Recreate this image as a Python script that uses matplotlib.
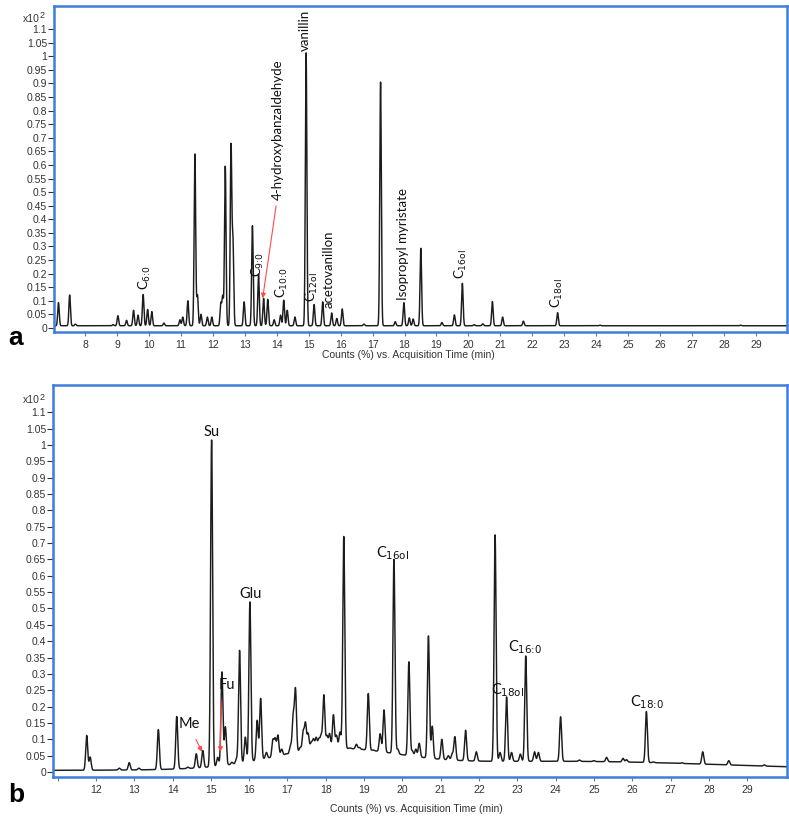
import numpy as np
import matplotlib
matplotlib.use("Agg")
import matplotlib.pyplot as plt

# ---- panel a: retention time (min) and apex height (x10^2 counts %) ----
PEAK_TIME_A = [7.17, 7.52, 7.70, 8.88, 9.03, 9.30, 9.52, 9.66, 9.82, 9.96,
               10.09, 10.47, 10.97, 11.06, 11.22, 11.44, 11.52, 11.63, 11.83, 11.97,
               12.25, 12.31, 12.39, 12.57, 12.63, 12.98, 13.24, 13.43, 13.59, 13.72,
               13.92, 14.12, 14.22, 14.33, 14.57, 14.92, 15.17, 15.44, 15.72, 15.88,
               16.05, 16.73, 17.25, 17.71, 17.98, 18.15, 18.27, 18.51, 19.17, 19.56,
               19.81, 20.18, 20.45, 20.75, 21.07, 21.72, 22.79, 24.12, 28.52]
PEAK_TOP_A = [0.093, 0.121, 0.014, 0.012, 0.045, 0.028, 0.065, 0.047, 0.123, 0.068,
              0.060, 0.018, 0.030, 0.040, 0.100, 0.640, 0.120, 0.050, 0.040, 0.040,
              0.090, 0.115, 0.595, 0.665, 0.315, 0.096, 0.376, 0.198, 0.109, 0.105,
              0.030, 0.047, 0.102, 0.065, 0.040, 1.013, 0.086, 0.096, 0.055, 0.035,
              0.070, 0.014, 0.905, 0.023, 0.093, 0.037, 0.033, 0.293, 0.020, 0.048,
              0.164, 0.012, 0.015, 0.097, 0.040, 0.025, 0.056, 0.010, 0.005]
BASE_LEVEL_A = 0.008

# ---- panel b ----
PEAK_TIME_B = [11.76, 11.85, 12.61, 12.87, 13.12, 13.63, 14.11, 14.40, 14.62, 14.79,
               15.02, 15.18, 15.29, 15.38, 15.55, 15.67, 15.75, 15.90, 16.02, 16.21,
               16.30, 16.45, 16.62, 16.68, 16.75, 16.85, 16.97, 17.08, 17.15, 17.21,
               17.33, 17.41, 17.47, 17.54, 17.62, 17.68, 17.75, 17.82, 17.88, 17.95,
               18.03, 18.10, 18.20, 18.28, 18.37, 18.47, 18.63, 18.80, 18.88, 19.11,
               19.24, 19.42, 19.52, 19.78, 19.88, 20.17, 20.26, 20.35, 20.44, 20.68,
               20.78, 21.03, 21.20, 21.30, 21.37, 21.65, 21.93, 22.42, 22.55, 22.72,
               22.85, 23.08, 23.22, 23.45, 23.55, 24.13, 24.62, 25.00, 25.33, 25.76,
               25.85, 26.37, 26.55, 27.30, 27.84, 28.52, 29.45]
PEAK_TOP_B = [0.112, 0.046, 0.012, 0.029, 0.012, 0.130, 0.170, 0.015, 0.056, 0.066,
              1.015, 0.045, 0.306, 0.138, 0.030, 0.040, 0.372, 0.107, 0.520, 0.158,
              0.225, 0.060, 0.097, 0.100, 0.112, 0.070, 0.046, 0.080, 0.168, 0.250,
              0.075, 0.122, 0.148, 0.117, 0.090, 0.100, 0.105, 0.100, 0.110, 0.235,
              0.110, 0.117, 0.175, 0.112, 0.122, 0.720, 0.070, 0.085, 0.075, 0.240,
              0.060, 0.117, 0.190, 0.650, 0.070, 0.337, 0.065, 0.070, 0.088, 0.416,
              0.140, 0.100, 0.050, 0.055, 0.108, 0.128, 0.062, 0.725, 0.060, 0.230,
              0.060, 0.055, 0.355, 0.062, 0.060, 0.169, 0.037, 0.035, 0.045, 0.042,
              0.038, 0.185, 0.028, 0.025, 0.062, 0.035, 0.022]
BASE_LEVEL_B = 0.005
HUMP_CENTER_B = [18.2, 24.0]
HUMP_HEIGHT_B = [0.055, 0.028]
HUMP_WIDTH_B = [1.6, 4.5]

Y_TICKS = [round(0.05 * i, 2) for i in range(23)]
X_TICKS_A = list(range(8, 30))
X_TICKS_B = list(range(11, 30))

# label text, time, bottom height
LABELS_A = [
    (r"C$_{\text{6:0}}$", 9.88, 0.140),
    (r"C$_{\text{9:0}}$", 13.41, 0.189),
    ("4-hydroxybanzaldehyde", 14.04, 0.471),
    ("vanillin", 14.89, 1.020),
    (r"C$_{\text{10:0}}$", 14.17, 0.110),
    (r"C$_{\text{12ol}}$", 15.10, 0.097),
    ("acetovanillon", 15.64, 0.073),
    ("Isopropyl myristate", 17.95, 0.103),
    (r"C$_{\text{16ol}}$", 19.77, 0.180),
    (r"C$_{\text{18ol}}$", 22.77, 0.073),
]
LABELS_B = [
    ("Su", 15.02, 1.04),
    ("Glu", 16.04, 0.544),
    (r"C$_{\text{16ol}}$", 19.75, 0.670),
    (r"C$_{\text{18ol}}$", 22.74, 0.250),
    (r"C$_{\text{16:0}}$", 23.20, 0.381),
    (r"C$_{\text{18:0}}$", 26.40, 0.212),
    ("Me", 14.44, 0.147),
    ("Fu", 15.43, 0.266),
]
ARROWS_A = [((13.98, 0.449), (13.56, 0.109))]
ARROWS_B = [((14.61, 0.100), (14.77, 0.062)), ((15.26, 0.220), (15.25, 0.062))]

FRAME_BLUE = "#3f7ddb"
TRACE = "#1c1c1c"
ARROW_RED = "#ff4a4a"
LABEL_FONT = ["Lato", "DejaVu Sans"]
TICK_FONT = ["Liberation Sans", "DejaVu Sans"]


def build_trace(t, times, tops, base, sigma):
    y = base.copy()
    for t0, top in zip(times, tops):
        amp = max(top - np.interp(t0, t, base), 0.002)
        y += amp * np.exp(-0.5 * ((t - t0) / sigma) ** 2)
    return y


def style_axes(ax, xlim, ylim, xticks, hide_first=False):
    ax.set_xlim(*xlim)
    ax.set_ylim(*ylim)
    for s in ax.spines.values():
        s.set_color(FRAME_BLUE)
        s.set_linewidth(1.8)
    ax.set_yticks(Y_TICKS)
    ax.set_yticklabels([f"{v:g}" for v in Y_TICKS], family=TICK_FONT, fontsize=7.5,
                       color="#333333")
    ax.set_xticks(xticks)
    labels = [str(v) for v in xticks]
    if hide_first:
        labels[0] = ""
    ax.set_xticklabels(labels, family=TICK_FONT, fontsize=7.5, color="#333333")
    ax.tick_params(axis="y", length=4, width=0.8, color="#333333", pad=1)
    ax.tick_params(axis="x", length=3, width=0.8, color="#777777", pad=3)


def main():
    plt.rcParams["mathtext.default"] = "regular"
    fig = plt.figure(figsize=(7.89, 8.17), dpi=100)
    W, H = 789, 817
    ax_a = fig.add_axes([54 / W, 1 - 332 / H, (787 - 54) / W, (332 - 6) / H])
    ax_b = fig.add_axes([53 / W, 1 - 777 / H, (787 - 53) / W, (777 - 385) / H])

    # panel a
    ta = np.linspace(7.03, 29.97, 20000)
    base_a = np.full_like(ta, BASE_LEVEL_A)
    ya = build_trace(ta, PEAK_TIME_A, PEAK_TOP_A, base_a, 0.024)
    ax_a.plot(ta, ya, color=TRACE, lw=1.05)
    style_axes(ax_a, (7.03, 29.97), (-0.015, 1.185), X_TICKS_A)
    for text, x, y in LABELS_A:
        ax_a.text(x, y, text, rotation=90, ha="center", va="bottom",
                  family=LABEL_FONT, fontsize=9.5, color="#111111")
    for start, end in ARROWS_A:
        ax_a.annotate("", xy=end, xytext=start,
                      arrowprops=dict(arrowstyle="-|>", color=ARROW_RED, lw=0.8,
                                      mutation_scale=7, shrinkA=0, shrinkB=0))

    # panel b
    tb = np.linspace(10.88, 30.04, 20000)
    base_b = np.full_like(tb, BASE_LEVEL_B)
    for c, h, w in zip(HUMP_CENTER_B, HUMP_HEIGHT_B, HUMP_WIDTH_B):
        base_b += h * np.exp(-0.5 * ((tb - c) / w) ** 2)
    yb = build_trace(tb, PEAK_TIME_B, PEAK_TOP_B, base_b, 0.026)
    ax_b.plot(tb, yb, color=TRACE, lw=1.05)
    style_axes(ax_b, (10.88, 30.04), (-0.015, 1.183), X_TICKS_B, hide_first=True)
    for text, x, y in LABELS_B:
        ax_b.text(x, y, text, ha="center", va="center",
                  family=LABEL_FONT, fontsize=10.5, color="#111111")
    for start, end in ARROWS_B:
        ax_b.annotate("", xy=end, xytext=start,
                      arrowprops=dict(arrowstyle="-|>", color=ARROW_RED, lw=0.8,
                                      mutation_scale=7, shrinkA=0, shrinkB=0))

    # axis captions and multipliers
    fig.text(408 / W, 1 - 355 / H, "Counts (%) vs. Acquisition Time (min)",
             ha="center", va="center", family=TICK_FONT, fontsize=7.5, color="#333333")
    fig.text(416 / W, 1 - 809 / H, "Counts (%) vs. Acquisition Time (min)",
             ha="center", va="center", family=TICK_FONT, fontsize=7.5, color="#333333")
    for y_px in (19, 400):
        fig.text(23 / W, 1 - y_px / H, "x10", ha="left", va="center",
                 family=TICK_FONT, fontsize=7.5, color="#333333")
        fig.text(40 / W, 1 - (y_px - 3) / H, "2", ha="left", va="center",
                 family=TICK_FONT, fontsize=6.5, color="#333333")
    fig.text(8 / W, 1 - 338 / H, "a", ha="left", va="center", fontsize=19,
             fontweight="bold", family=TICK_FONT)
    fig.text(8 / W, 1 - 795 / H, "b", ha="left", va="center", fontsize=19,
             fontweight="bold", family=TICK_FONT)

    fig.savefig("out.png", dpi=100)
    plt.close(fig)


if __name__ == "__main__":
    main()
